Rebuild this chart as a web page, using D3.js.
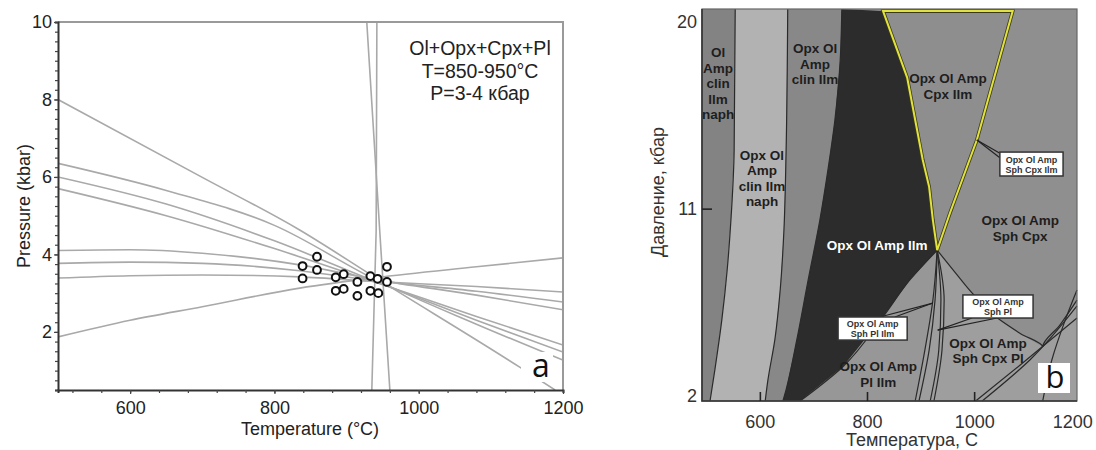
<!DOCTYPE html>
<html>
<head>
<meta charset="utf-8">
<script src="https://cdn.jsdelivr.net/npm/d3@7/dist/d3.min.js"></script>
<style>
body { margin: 0; background: #fff; }
text { font-family: "Liberation Sans", Arial, sans-serif; }
</style>
</head>
<body>
<svg id="chart"></svg>
<script>
// ---- Panel a: thermobarometer lines (T in C, P in kbar)
var isoLines = [
    [[500, 8.0], [700, 5.99], [835, 4.63], [940, 3.4], [1140, 1.09], [1189, 0.5]],
    [[500, 6.35], [650, 5.65], [800, 4.75], [940, 3.35], [1080, 2.2], [1200, 1.27]],
    [[500, 6.0], [650, 5.3], [800, 4.35], [940, 3.3], [1080, 2.3], [1200, 1.48]],
    [[500, 5.7], [650, 5.0], [800, 4.15], [940, 3.28], [1080, 2.4], [1200, 1.66]],
    [[500, 4.1], [600, 4.12], [700, 4.03], [835, 3.73], [940, 3.35], [1080, 2.95], [1200, 2.57]],
    [[500, 3.77], [600, 3.8], [700, 3.77], [835, 3.58], [940, 3.32], [1080, 3.05], [1200, 2.77]],
    [[500, 3.39], [600, 3.45], [700, 3.47], [835, 3.42], [940, 3.3], [1080, 3.17], [1200, 3.03]],
    [[500, 1.87], [600, 2.3], [700, 2.65], [835, 3.13], [940, 3.4], [1080, 3.68], [1200, 3.91]]
];
var steepLines = [
    [[928, 10], [946, 4.6], [960, 0.5]],
    [[942, 10], [941, 4.6], [935, 0.5]]
];
var samples = [
    [859, 3.94], [839, 3.70], [859, 3.60], [839, 3.38], [885, 3.41], [896, 3.49],
    [885, 3.06], [896, 3.11], [915, 3.29], [915, 2.93], [933, 3.44], [943, 3.37],
    [956, 3.68], [956, 3.29], [933, 3.06], [944, 3.00]
];
var noteLines = ["Ol+Opx+Cpx+Pl", "T=850-950°C", "P=3-4 кбар"];
var tTicksA = [600, 800, 1000, 1200];
var pTicksA = [2, 4, 6, 8, 10];

// ---- Panel b: phase field boundaries (T in C, P in kbar)
var bound1 = [[554, 20.6], [552, 13.8], [546, 10.45], [539, 8.05], [529, 5.65], [516, 3.25], [507, 1.75]];
var bound2 = [[652, 20.6], [649, 13.8], [645, 10], [638, 7.1], [628, 4.7], [615, 2.75], [610, 1.75]];
var bound3 = [[753, 20.6], [750, 18.15], [740, 15.25], [727, 12.85], [712, 10.45], [690, 7.55], [669, 4.7], [649, 2.3], [643, 1.75]];
var triLeft = [[830, 20.5], [875, 17.3], [904, 13.35], [916, 12.05], [923, 10.45], [931, 9.0]];
var triRight = [[1072, 20.5], [1005, 14.3], [955, 10.8], [931, 9.0]];
var darkLow = [[931, 9.0], [880, 7.57], [830, 5.8], [755, 3.4], [675, 1.75]];
var sphCpxEdge = [[931, 9.0], [964, 7.95], [996, 6.95], [1043, 5.75], [1086, 5.0], [1128, 4.35], [1160, 5.4], [1192, 6.6]];
var fanLines = [
    [[931, 9], [923, 6.6], [908, 4.2], [890, 1.75]],
    [[931, 9], [927, 6.6], [916, 4.2], [897, 1.75]],
    [[931, 9], [938, 6.6], [934, 4.2], [918, 1.75]],
    [[931, 9], [944, 6.6], [940, 4.2], [925, 1.75]]
];
var cornerLines = [
    [[1003, 1.75], [1086, 3.48], [1192, 5.74]],
    [[1015, 1.75], [1104, 3.72], [1192, 6.32]],
    [[1128, 1.75], [1145, 3.72], [1170, 5.64], [1192, 7.09]]
];
var fieldLabels = [
    { t: 522, p: 18.53, lines: ["Ol", "Amp", "clin", "Ilm", "naph"], color: "#1e1e1e" },
    { t: 604, p: 13.58, lines: ["Opx Ol", "Amp", "clin Ilm", "naph"], color: "#1e1e1e" },
    { t: 703, p: 18.72, lines: ["Opx Ol", "Amp", "clin Ilm"], color: "#1e1e1e" },
    { t: 951, p: 17.28, lines: ["Opx Ol Amp", "Cpx Ilm"], color: "#1e1e1e" },
    { t: 1086, p: 10.45, lines: ["Opx Ol Amp", "Sph Cpx"], color: "#1e1e1e" },
    { t: 819, p: 9.25, lines: ["Opx Ol Amp Ilm"], color: "#ffffff" },
    { t: 821, p: 3.43, lines: ["Opx Ol Amp", "Pl Ilm"], color: "#1e1e1e" },
    { t: 1026, p: 4.54, lines: ["Opx Ol Amp", "Sph Cpx Pl"], color: "#1e1e1e" }
];
// boxed labels: box corners and leader tip
var boxLabels = [
    { t0: 1048, t1: 1166, p0: 13.72, p1: 12.57, lines: ["Opx Ol Amp", "Sph Cpx Ilm"], tip: [1005, 14.3], ends: [[1048, 13.66], [1048, 13.45]] },
    { t0: 979, t1: 1110, p0: 6.85, p1: 5.74, lines: ["Opx Ol Amp", "Sph Pl"], tip: [932, 5.16], ends: [[996, 5.74], [1043, 5.74]] },
    { t0: 746, t1: 875, p0: 5.79, p1: 4.68, lines: ["Opx Ol Amp", "Sph Pl Ilm"], tip: [923, 6.46], ends: [[824, 5.79], [852, 5.79]] }
];
var tTicksB = [600, 800, 1000, 1200];
var pTicksB = [2, 11, 20];

var svg = d3.select("#chart").attr("width", 1096).attr("height", 450);
svg.append("rect").attr("width", 1096).attr("height", 450).attr("fill", "#fff");

// ================= Panel a =================
var xA = d3.scaleLinear().domain([500, 1200]).range([58, 563]);
var yA = d3.scaleLinear().domain([0.5, 10]).range([390, 22]);

var lineA = d3.line()
    .x(function (d) { return xA(d[0]); })
    .y(function (d) { return yA(d[1]); });

svg.append("clipPath").attr("id", "clipA")
    .append("rect").attr("x", 58).attr("y", 22).attr("width", 505).attr("height", 368);

var gA = svg.append("g").attr("clip-path", "url(#clipA)");

gA.selectAll(".iso").data(isoLines).enter().append("path")
    .attr("d", lineA.curve(d3.curveMonotoneX))
    .attr("fill", "none").attr("stroke", "#a9a9a9").attr("stroke-width", 1.6);

gA.selectAll(".steep").data(steepLines).enter().append("path")
    .attr("d", d3.line()
        .x(function (d) { return xA(d[0]); })
        .y(function (d) { return yA(d[1]); }))
    .attr("fill", "none").attr("stroke", "#a9a9a9").attr("stroke-width", 1.6);

// label "a" sits on a white patch
svg.append("rect").attr("x", 521).attr("y", 352).attr("width", 32).attr("height", 30).attr("fill", "#fff");
svg.append("text").attr("x", 541).attr("y", 377).attr("text-anchor", "middle")
    .style("font-family", "'Open Sans', sans-serif").style("font-size", "32px").attr("fill", "#111")
    .text("a");

svg.selectAll(".smp").data(samples).enter().append("circle")
    .attr("cx", function (d) { return xA(d[0]); })
    .attr("cy", function (d) { return yA(d[1]); })
    .attr("r", 3.9).attr("fill", "#fff").attr("stroke", "#111").attr("stroke-width", 2);

// frame: grey top/right
svg.append("path").attr("d", "M58,22H563V390").attr("fill", "none").attr("stroke", "#9a9a9a").attr("stroke-width", 2);

var fmt = d3.format("d");
var axA = svg.append("g").attr("transform", "translate(0,390)")
    .call(d3.axisBottom(xA).tickValues(d3.range(520, 1201, 40)).tickSize(3).tickFormat(""));
axA.append("g").call(d3.axisBottom(xA).tickValues(tTicksA).tickSize(4).tickPadding(7).tickFormat(fmt));
var ayA = svg.append("g").attr("transform", "translate(58,0)")
    .call(d3.axisLeft(yA).tickValues(d3.range(0.5, 10.01, 0.25)).tickSize(3).tickFormat(""));
ayA.append("g").call(d3.axisLeft(yA).tickValues(pTicksA).tickSize(4).tickPadding(2).tickFormat(fmt));

[axA, ayA].forEach(function (g) {
    g.selectAll(".domain").attr("stroke", "#333").attr("stroke-width", 2);
    g.selectAll(".tick line").attr("stroke", "#444").attr("stroke-width", 1.2);
    g.selectAll("text").style("font-size", "18px").attr("fill", "#222")
        .style("font-family", "'Liberation Sans', Arial, sans-serif");
});
ayA.selectAll("g g .domain").remove();
axA.selectAll("g g .domain").remove();

svg.append("text").attr("x", 310).attr("y", 435).attr("text-anchor", "middle")
    .style("font-size", "18px").attr("fill", "#222").text("Temperature (°C)");
svg.append("text").attr("transform", "translate(30,206) rotate(-90)").attr("text-anchor", "middle")
    .style("font-size", "18px").attr("fill", "#222").text("Pressure (kbar)");

svg.selectAll(".note").data(noteLines).enter().append("text")
    .attr("x", 480).attr("y", function (d, i) { return 55 + i * 22.5; })
    .attr("text-anchor", "middle").style("font-size", "19.5px").attr("fill", "#222")
    .text(function (d) { return d; });

// ================= Panel b =================
var xB = d3.scaleLinear().domain([492, 1192]).range([702, 1077]);
var yB = d3.scaleLinear().domain([1.75, 20.6]).range([401, 9]);
var tMin = 492, tMax = 1192, pMin = 1.75, pMax = 20.6;

var lineB = d3.line()
    .x(function (d) { return xB(d[0]); })
    .y(function (d) { return yB(d[1]); });

function rev(a) { return a.slice().reverse(); }

var fields = [
    { fill: "#9e9e9e", pts: [[tMin, pMax], [tMax, pMax], [tMax, pMin], [tMin, pMin]] },
    { fill: "#838383", pts: [[tMin, pMax]].concat(bound1, [[tMin, pMin]]) },
    { fill: "#b2b2b2", pts: bound1.concat(rev(bound2)) },
    { fill: "#888888", pts: bound2.concat(rev(bound3)) },
    { fill: "#979797", pts: darkLow.concat(rev(fanLines[0])) },          // Pl Ilm
    { fill: "#2c2c2c", pts: bound3.concat(rev(darkLow), rev(triLeft)) },  // Ilm (dark)
    { fill: "#8f8f8f", pts: triRight.concat(sphCpxEdge.slice(1), [[tMax, pMax], [1072, pMax]]) },
    { fill: "#8e8e8e", pts: triLeft.concat(rev(triRight).slice(1)) }
];

var gB = svg.append("g");
gB.selectAll(".field").data(fields).enter().append("path")
    .attr("d", function (d) { return lineB(d.pts) + "Z"; })
    .attr("fill", function (d) { return d.fill; }).attr("stroke", "none");

var edges = [bound1, bound2, bound3, darkLow, sphCpxEdge].concat(fanLines, cornerLines);
gB.selectAll(".edge").data(edges).enter().append("path")
    .attr("d", lineB.curve(d3.curveMonotoneY))
    .attr("fill", "none").attr("stroke", "#2a2a2a").attr("stroke-width", 1.2);
lineB.curve(d3.curveLinear);

// yellow outlined triangle
var triPath = lineB(triLeft.concat(rev(triRight).slice(1))) + "Z";
gB.append("path").attr("d", triPath).attr("fill", "none").attr("stroke", "#3a3a20").attr("stroke-width", 3.6);
gB.append("path").attr("d", triPath).attr("fill", "none").attr("stroke", "#e2e23c").attr("stroke-width", 2);

// field names
fieldLabels.forEach(function (f) {
    gB.append("g").selectAll("text").data(f.lines).enter().append("text")
        .attr("x", xB(f.t))
        .attr("y", function (d, i) { return yB(f.p) + i * 15.5 + 5; })
        .attr("text-anchor", "middle").style("font-size", "13.5px").style("font-weight", "bold")
        .attr("fill", f.color).text(function (d) { return d; });
});

// boxed labels with leaders
boxLabels.forEach(function (b) {
    b.ends.forEach(function (e) {
        gB.append("line")
            .attr("x1", xB(b.tip[0])).attr("y1", yB(b.tip[1]))
            .attr("x2", xB(e[0])).attr("y2", yB(e[1]))
            .attr("stroke", "#222").attr("stroke-width", 1.2);
    });
    gB.append("rect")
        .attr("x", xB(b.t0)).attr("y", yB(b.p0))
        .attr("width", xB(b.t1) - xB(b.t0)).attr("height", yB(b.p1) - yB(b.p0))
        .attr("fill", "#fff").attr("stroke", "#333").attr("stroke-width", 1.5);
    var cx = (xB(b.t0) + xB(b.t1)) / 2, cy = (yB(b.p0) + yB(b.p1)) / 2;
    gB.append("g").selectAll("text").data(b.lines).enter().append("text")
        .attr("x", cx).attr("y", function (d, i) { return cy - 1.5 + i * 10; })
        .attr("text-anchor", "middle").style("font-size", "9px").style("font-weight", "bold")
        .attr("fill", "#333").text(function (d) { return d; });
});

// "b" label
svg.append("rect").attr("x", 1038).attr("y", 363).attr("width", 32).attr("height", 30).attr("fill", "#fff");
svg.append("text").attr("x", 1055).attr("y", 388).attr("text-anchor", "middle")
    .style("font-family", "'Open Sans', sans-serif").style("font-size", "31px").attr("fill", "#111")
    .text("b");

// frame and ticks
svg.append("rect").attr("x", 702).attr("y", 9).attr("width", 375).attr("height", 392)
    .attr("fill", "none").attr("stroke", "#666").attr("stroke-width", 1.2);
svg.append("path").attr("d", "M702,9V401H1077").attr("fill", "none").attr("stroke", "#333").attr("stroke-width", 1.6);

var axB = svg.append("g").attr("transform", "translate(0,401)")
    .call(d3.axisBottom(xB).tickValues(tTicksB).tickSize(-9).tickPadding(14).tickFormat(fmt));
var ayB = svg.append("g").attr("transform", "translate(702,0)")
    .call(d3.axisLeft(yB).tickValues(pTicksB).tickSize(-10).tickPadding(5).tickFormat(fmt));
[axB, ayB].forEach(function (g) {
    g.select(".domain").remove();
    g.selectAll(".tick line").attr("stroke", "#222").attr("stroke-width", 1.6);
    g.selectAll("text").style("font-size", "18px").attr("fill", "#333")
        .style("font-family", "'Liberation Sans', Arial, sans-serif");
});
// last label pulled in so it stays inside the page
axB.selectAll(".tick").filter(function (d) { return d === 1200; })
    .call(function (t) { t.select("line").remove(); t.select("text").attr("dx", -9); });
ayB.selectAll(".tick").filter(function (d) { return d !== 11; }).select("line").remove();

svg.append("text").attr("x", 912).attr("y", 446).attr("text-anchor", "middle")
    .style("font-size", "18px").attr("fill", "#333").text("Температура, С");
svg.append("text").attr("transform", "translate(664,192) rotate(-90)").attr("text-anchor", "middle")
    .style("font-size", "18px").attr("fill", "#333").text("Давление, кбар");
</script>
</body>
</html>
